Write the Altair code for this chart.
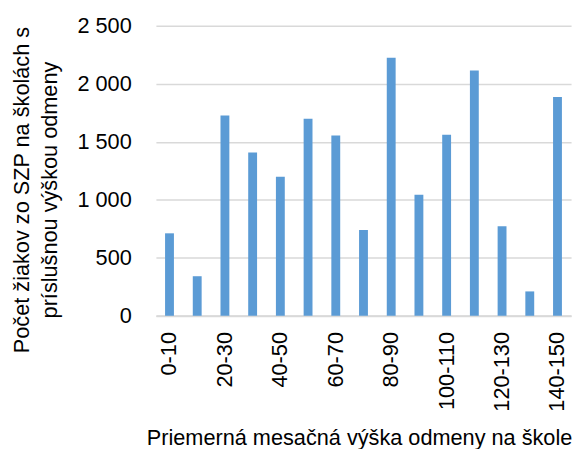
import altair as alt
import pandas as pd

categories = ["0-10", "10-20", "20-30", "30-40", "40-50", "50-60", "60-70", "70-80",
              "80-90", "90-100", "100-110", "110-120", "120-130", "130-140", "140-150"]
values = [711, 341, 1728, 1407, 1199, 1700, 1555, 739, 2225, 1043, 1560, 2114, 773, 210, 1887]
shown_labels = categories[::2]
y_ticks = [0, 500, 1000, 1500, 2000, 2500]

df = pd.DataFrame({"cat": categories, "val": values})

FONT = "Liberation Sans"
FS = 22

chart = alt.Chart(df).mark_bar(color="#5b9bd5").encode(
    x=alt.X("cat:N", sort=categories,
            scale=alt.Scale(paddingInner=0.68, paddingOuter=0.33),
            axis=alt.Axis(values=shown_labels, labelAngle=-90, labelAlign="right",
                          labelBaseline="middle", labelPadding=16, ticks=False,
                          domainColor="#d9d9d9", domainWidth=2,
                          labelFont=FONT, labelFontSize=FS, labelColor="#000000",
                          title="Priemerná mesačná výška odmeny na škole",
                          titleFont=FONT, titleFontSize=FS, titleFontWeight="normal",
                          titleColor="#000000", titleX=206, titleY=131,
                          titleAlign="center", titleBaseline="alphabetic")),
    y=alt.Y("val:Q", scale=alt.Scale(domain=[0, 2500], nice=False),
            axis=alt.Axis(values=y_ticks, ticks=False, domain=False,
                          gridColor="#d9d9d9", gridWidth=1.5,
                          labelExpr="replace(format(datum.value, ','), ',', ' ')",
                          labelPadding=25, labelFont=FONT, labelFontSize=FS,
                          labelColor="#000000",
                          title=["Počet žiakov zo SZP na školách s", "príslušnou výškou odmeny"],
                          titleFont=FONT, titleFontSize=FS, titleFontWeight="normal",
                          titleColor="#000000", titleAngle=-90, titleX=-146, titleY=166,
                          titleAlign="center", titleBaseline="top", titleLineHeight=28)),
).properties(
    width=421, height=294,
    autosize=alt.AutoSizeParams(type="none"),
    padding={"left": 150, "top": 15, "right": 5, "bottom": 132},
).configure_view(stroke=None)

chart.save("out.html", embed_options={"renderer": "svg", "actions": False})
